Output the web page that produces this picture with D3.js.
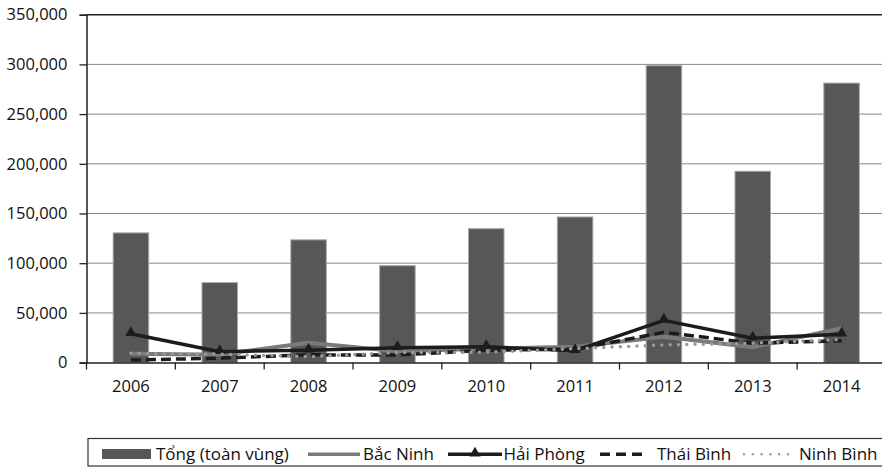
<!DOCTYPE html>
<html>
<head>
<meta charset="utf-8">
<script src="https://cdn.jsdelivr.net/npm/d3@7"></script>
<style>
  html, body { margin: 0; padding: 0; background: #fff; }
  svg { display: block; }
  text { font-family: "Open Sans", "Noto Sans", sans-serif; fill: #111; }
</style>
</head>
<body>
<svg id="chart" width="882" height="467"></svg>
<script>
// ---- data ----
const years = ["2006", "2007", "2008", "2009", "2010", "2011", "2012", "2013", "2014"];
const tong = [130500, 80500, 123500, 97500, 134700, 146500, 298700, 192500, 281200];
const bacNinh = [9000, 8000, 20000, 11500, 14000, 16000, 26000, 15500, 34500];
const haiPhong = [29000, 11000, 12500, 15000, 16000, 12000, 42500, 24500, 28500];
const thaiBinh = [2500, 4500, 7800, 7600, 12500, 13500, 30500, 19500, 22000];
const ninhBinh = [9500, 8500, 6000, 10000, 10500, 14000, 17800, 19500, 23300];
const yTicks = [0, 50000, 100000, 150000, 200000, 250000, 300000, 350000];
const seriesNames = ["Tổng (toàn vùng)", "Bắc Ninh", "Hải Phòng", "Thái Bình", "Ninh Bình"];

(function () {
// ---- layout ----
const svg = d3.select("#chart");
const pLeft = 86.5, pRight = 886, pTop = 14.7, pBottom = 362.6;

const x = d3.scaleBand().domain(years).range([pLeft, pRight]).paddingInner(0).paddingOuter(0);
const y = d3.scaleLinear().domain([0, 350000]).range([pBottom, pTop]);
const fmt = d3.format(",");

// gridlines
svg.append("g").selectAll("line").data(yTicks.filter(d => d > 0)).join("line")
  .attr("x1", pLeft).attr("x2", 882)
  .attr("y1", d => y(d)).attr("y2", d => y(d))
  .attr("stroke", d => d === 350000 ? "#222" : "#8a8a8a")
  .attr("stroke-width", d => d === 350000 ? 1.6 : 1);

// bars
const bw = x.bandwidth() * 0.4;
svg.append("g").selectAll("rect").data(tong).join("rect")
  .attr("x", (d, i) => x(years[i]) + (x.bandwidth() - bw) / 2)
  .attr("y", d => y(d))
  .attr("width", bw)
  .attr("height", d => pBottom - y(d))
  .attr("fill", "#575757")
  .attr("stroke", "#a8a8a8")
  .attr("stroke-width", 1);

// y axis
const yAxis = d3.axisLeft(y).tickValues(yTicks).tickFormat(fmt).tickSize(7).tickPadding(12);
const gy = svg.append("g").attr("transform", `translate(${pLeft},0)`).call(yAxis);
gy.select(".domain").attr("stroke", "#222").attr("stroke-width", 1.5);
gy.selectAll(".tick line").attr("stroke", "#222").attr("stroke-width", 1.3);
gy.selectAll(".tick text").attr("font-size", "16.5px").attr("fill", "#111")
  .style("font-family", "'Open Sans', sans-serif");

// x axis
const xAxis = d3.axisBottom(x).tickSize(0).tickPadding(18);
const gx = svg.append("g").attr("transform", `translate(0,${pBottom})`).call(xAxis);
gx.select(".domain").attr("stroke", "#222").attr("stroke-width", 1.5);
gx.selectAll(".tick text").attr("font-size", "16.5px").attr("fill", "#111")
  .style("font-family", "'Open Sans', sans-serif");
// category separator ticks
const bounds = years.map(yr => x(yr)).concat([pRight]);
svg.append("g").selectAll("line").data(bounds).join("line")
  .attr("x1", d => d).attr("x2", d => d)
  .attr("y1", pBottom).attr("y2", pBottom + 7)
  .attr("stroke", "#222").attr("stroke-width", 1.3);

// lines
const cx = i => x(years[i]) + x.bandwidth() / 2;
const lineGen = d3.line().x((d, i) => cx(i)).y(d => y(d));

svg.append("path").datum(bacNinh).attr("d", lineGen)
  .attr("fill", "none").attr("stroke", "#7a7a7a").attr("stroke-width", 4)
  .attr("stroke-linejoin", "round");

svg.append("path").datum(haiPhong).attr("d", lineGen)
  .attr("fill", "none").attr("stroke", "#1c1c1c").attr("stroke-width", 3.5)
  .attr("stroke-linejoin", "round");
svg.append("g").selectAll("path").data(haiPhong).join("path")
  .attr("d", d3.symbol().type(d3.symbolTriangle).size(55))
  .attr("transform", (d, i) => `translate(${cx(i)},${y(d) - 1})`)
  .attr("fill", "#1c1c1c");

svg.append("path").datum(thaiBinh).attr("d", lineGen)
  .attr("fill", "none").attr("stroke", "#1c1c1c").attr("stroke-width", 3.5)
  .attr("stroke-dasharray", "10,5");

svg.append("path").datum(ninhBinh).attr("d", lineGen)
  .attr("fill", "none").attr("stroke", "#9a9a9a").attr("stroke-width", 3.5)
  .attr("stroke-linecap", "round").attr("stroke-dasharray", "0,8.3");

// legend
const lg = svg.append("g");
lg.append("rect").attr("x", 88).attr("y", 438.5).attr("width", 820).attr("height", 27.5)
  .attr("fill", "#fff").attr("stroke", "#333").attr("stroke-width", 1.2);
const ly = 454.3;
// layout of legend keys: [keyStart, keyEnd, textX]
const legendLayout = [[102, 151, 156], [308, 360, 363], [448, 502, 503.5], [600, 644, 657], [743, 789, 799]];

lg.append("rect").attr("x", legendLayout[0][0]).attr("y", 449).attr("width", legendLayout[0][1] - legendLayout[0][0]).attr("height", 10)
  .attr("fill", "#575757");
lg.append("line").attr("x1", legendLayout[1][0]).attr("x2", legendLayout[1][1]).attr("y1", ly).attr("y2", ly)
  .attr("stroke", "#7a7a7a").attr("stroke-width", 3.5);
lg.append("line").attr("x1", legendLayout[2][0]).attr("x2", legendLayout[2][1]).attr("y1", ly).attr("y2", ly)
  .attr("stroke", "#1c1c1c").attr("stroke-width", 3.5);
lg.append("path").attr("d", d3.symbol().type(d3.symbolTriangle).size(55))
  .attr("transform", `translate(${(legendLayout[2][0] + legendLayout[2][1]) / 2},${ly - 1})`).attr("fill", "#1c1c1c");
lg.append("line").attr("x1", legendLayout[3][0]).attr("x2", legendLayout[3][1]).attr("y1", ly).attr("y2", ly)
  .attr("stroke", "#1c1c1c").attr("stroke-width", 3.5).attr("stroke-dasharray", "10,6");
lg.append("line").attr("x1", legendLayout[4][0] + 1).attr("x2", legendLayout[4][1]).attr("y1", ly).attr("y2", ly)
  .attr("stroke", "#9a9a9a").attr("stroke-width", 2.5).attr("stroke-linecap", "round").attr("stroke-dasharray", "0,8.8");

lg.selectAll("text.leg").data(seriesNames).join("text").attr("class", "leg")
  .attr("x", (d, i) => legendLayout[i][2]).attr("y", 460)
  .attr("font-size", "17px").text(d => d);
})();
</script>
</body>
</html>
